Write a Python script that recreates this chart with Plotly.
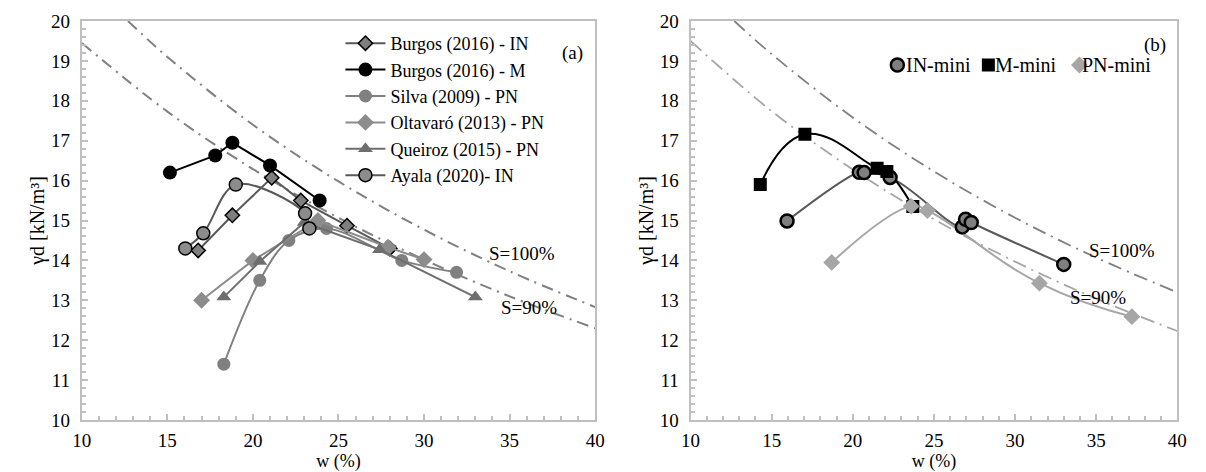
import plotly.graph_objects as go

# ---------------- Panel (a) data ----------------
burgos_in_w = [16.8, 18.8, 21.1, 22.8, 25.5, 28.0]
burgos_in_g = [14.25, 15.13, 16.07, 15.5, 14.87, 14.3]

burgos_m_w = [15.15, 17.8, 18.8, 21.0, 23.9]
burgos_m_g = [16.2, 16.63, 16.95, 16.38, 15.5]

silva_w = [18.3, 20.4, 22.1, 24.3, 28.7, 31.9]
silva_g = [11.4, 13.5, 14.5, 14.8, 14.0, 13.7]

oltavaro_w = [17.0, 20.0, 23.8, 27.9, 30.0]
oltavaro_g = [13.0, 14.0, 15.0, 14.33, 14.02]

queiroz_w = [18.3, 20.4, 23.0, 27.4, 33.0]
queiroz_g = [13.08, 13.97, 14.95, 14.27, 13.08]

ayala_w = [16.05, 17.1, 19.0, 23.05, 23.3]
ayala_g = [14.3, 14.68, 15.9, 15.18, 14.8]

# saturation curves
sat100a_w = [12.7, 15, 20, 25, 30, 35, 40]
sat100a_g = [20.0, 19.1, 17.4, 15.98, 14.77, 13.73, 12.83]
sat90a_w = [10, 15, 20, 25, 30, 35, 40]
sat90a_g = [19.45, 17.73, 16.29, 15.07, 14.02, 13.1, 12.3]

# ---------------- Panel (b) data ----------------
in_mini_w = [15.95, 20.4, 20.7, 22.3, 26.75, 26.95, 27.3, 33.0]
in_mini_g = [14.99, 16.21, 16.2, 16.08, 14.84, 15.03, 14.95, 13.9]

m_mini_w = [14.3, 17.05, 21.5, 22.1, 23.7]
m_mini_g = [15.9, 17.16, 16.31, 16.23, 15.35]

pn_mini_w = [18.7, 23.6, 24.6, 31.5, 37.2]
pn_mini_g = [13.95, 15.36, 15.25, 13.43, 12.59]

sat100b_w = [12.7, 15, 20, 25, 30, 35, 40]
sat100b_g = [20.0, 19.17, 17.58, 16.23, 15.07, 14.07, 13.2]
sat90b_w = [10, 15, 20, 25, 30, 35, 40]
sat90b_g = [19.5, 17.74, 16.28, 15.03, 13.97, 13.04, 12.23]

legend_b_labels = ["IN-mini", "M-mini", "PN-mini"]

FONT = "Liberation Serif, Times New Roman, serif"
FS = 19

fig = go.Figure()

# saturation lines (a)
fig.add_trace(go.Scatter(x=sat100a_w, y=sat100a_g, mode="lines", line=dict(shape="spline", color="#808080", width=2, dash="12px,6px,2px,6px"),
                         showlegend=False, xaxis="x", yaxis="y", hoverinfo="skip"))
fig.add_trace(go.Scatter(x=sat90a_w, y=sat90a_g, mode="lines", line=dict(shape="spline", color="#808080", width=2, dash="12px,6px,2px,6px"),
                         showlegend=False, xaxis="x", yaxis="y", hoverinfo="skip"))

# panel (a) series
fig.add_trace(go.Scatter(x=burgos_in_w, y=burgos_in_g, mode="lines+markers", name="Burgos (2016) - IN",
                         line=dict(color="#595959", width=2),
                         marker=dict(symbol="diamond", size=11, color="#7f7f7f", line=dict(color="black", width=1.5)),
                         legend="legend", xaxis="x", yaxis="y"))
fig.add_trace(go.Scatter(x=burgos_m_w, y=burgos_m_g, mode="lines+markers", name="Burgos (2016) - M",
                         line=dict(color="black", width=2),
                         marker=dict(symbol="circle", size=14, color="black"),
                         legend="legend", xaxis="x", yaxis="y"))
fig.add_trace(go.Scatter(x=silva_w, y=silva_g, mode="lines+markers", name="Silva (2009) - PN",
                         line=dict(color="#808080", width=2, shape="spline"),
                         marker=dict(symbol="circle", size=13, color="#808080"),
                         legend="legend", xaxis="x", yaxis="y"))
fig.add_trace(go.Scatter(x=oltavaro_w, y=oltavaro_g, mode="lines+markers", name="Oltavaró (2013) - PN",
                         line=dict(color="#8c8c8c", width=2),
                         marker=dict(symbol="diamond", size=13, color="#8c8c8c"),
                         legend="legend", xaxis="x", yaxis="y"))
fig.add_trace(go.Scatter(x=queiroz_w, y=queiroz_g, mode="lines+markers", name="Queiroz (2015) - PN",
                         line=dict(color="#6e6e6e", width=2),
                         marker=dict(symbol="triangle-up", size=13, color="#6e6e6e"),
                         legend="legend", xaxis="x", yaxis="y"))
fig.add_trace(go.Scatter(x=ayala_w, y=ayala_g, mode="lines+markers", name="Ayala (2020)- IN",
                         line=dict(color="#595959", width=2, shape="spline"),
                         marker=dict(symbol="circle", size=13, color="#8c8c8c", line=dict(color="black", width=1.5)),
                         legend="legend", xaxis="x", yaxis="y"))

# saturation lines (b)
fig.add_trace(go.Scatter(x=sat100b_w, y=sat100b_g, mode="lines", line=dict(shape="spline", color="#808080", width=1.8, dash="14px,6px,2px,6px"),
                         showlegend=False, xaxis="x2", yaxis="y2", hoverinfo="skip"))
fig.add_trace(go.Scatter(x=sat90b_w, y=sat90b_g, mode="lines", line=dict(shape="spline", color="#a6a6a6", width=1.8, dash="14px,6px,2px,6px"),
                         showlegend=False, xaxis="x2", yaxis="y2", hoverinfo="skip"))

# panel (b) lines
fig.add_trace(go.Scatter(x=in_mini_w, y=in_mini_g, mode="lines", line=dict(color="#595959", width=2, shape="spline", smoothing=1.3),
                         showlegend=False, xaxis="x2", yaxis="y2"))
fig.add_trace(go.Scatter(x=m_mini_w, y=m_mini_g, mode="lines", line=dict(color="black", width=2, shape="spline", smoothing=1.3),
                         showlegend=False, xaxis="x2", yaxis="y2"))
fig.add_trace(go.Scatter(x=pn_mini_w, y=pn_mini_g, mode="lines", line=dict(color="#a6a6a6", width=2, shape="spline", smoothing=1.3),
                         showlegend=False, xaxis="x2", yaxis="y2"))
# panel (b) markers (legend symbols only; labels placed as text next to them)
fig.add_trace(go.Scatter(x=in_mini_w, y=in_mini_g, mode="markers", name=" ",
                         marker=dict(symbol="circle", size=13, color="#7f7f7f", line=dict(color="black", width=2.5)),
                         legend="legend2", xaxis="x2", yaxis="y2", hovertemplate="IN-mini<br>%{x}, %{y}<extra></extra>"))
fig.add_trace(go.Scatter(x=m_mini_w, y=m_mini_g, mode="markers", name=" ",
                         marker=dict(symbol="square", size=13, color="black"),
                         legend="legend2", xaxis="x2", yaxis="y2", hovertemplate="M-mini<br>%{x}, %{y}<extra></extra>"))
fig.add_trace(go.Scatter(x=pn_mini_w, y=pn_mini_g, mode="markers", name=" ",
                         marker=dict(symbol="diamond", size=13, color="#a6a6a6"),
                         legend="legend2", xaxis="x2", yaxis="y2", hovertemplate="PN-mini<br>%{x}, %{y}<extra></extra>"))

axis_common = dict(
    showgrid=False, zeroline=False, showline=True, linecolor="#bfbfbf", linewidth=2, mirror=True,
    ticks="inside", ticklen=6, tickcolor="#bfbfbf", tickwidth=1.5,
    tickfont=dict(family=FONT, size=FS, color="black"),
)

xaxis_common = dict(axis_common, range=[10, 40], dtick=5, tick0=10, ticklabelstandoff=2,
                    minor=dict(dtick=1, ticks="inside", ticklen=4, tickcolor="#bfbfbf"),
                    title=dict(text="w (%)", font=dict(family=FONT, size=18, color="black"), standoff=5))
yaxis_common = dict(axis_common, range=[10, 20], dtick=1, tick0=10, ticklabelstandoff=6,
                    minor=dict(dtick=0.2, ticks="inside", ticklen=4, tickcolor="#bfbfbf"),
                    title=dict(text="γd [kN/m³]", font=dict(family=FONT, size=20, color="black"), standoff=1))

W, H = 1206, 472
leg_y = (420 - 65) / 399
legend_b_x = [909, 1000, 1088]
annotations = [
    dict(text="(a)", x=38.7, y=19.2, xref="x", yref="y", showarrow=False, font=dict(family=FONT, size=FS)),
    dict(text="(b)", x=38.6, y=19.41, xref="x2", yref="y2", showarrow=False, font=dict(family=FONT, size=FS)),
    dict(text="S=100%", x=35.7, y=14.18, xref="x", yref="y", showarrow=False, font=dict(family=FONT, size=FS)),
    dict(text="S=90%", x=36.15, y=12.83, xref="x", yref="y", showarrow=False, font=dict(family=FONT, size=FS)),
    dict(text="S=100%", x=36.6, y=14.26, xref="x2", yref="y2", showarrow=False, font=dict(family=FONT, size=FS)),
    dict(text="S=90%", x=35.1, y=13.08, xref="x2", yref="y2", showarrow=False, font=dict(family=FONT, size=FS)),
]
for lbl, px in zip(legend_b_labels, legend_b_x):
    annotations.append(dict(text=lbl, x=px / W, y=leg_y, xref="paper", yref="paper", xanchor="left", yanchor="middle",
                            showarrow=False, font=dict(family=FONT, size=20, color="black")))

fig.update_layout(
    width=W, height=H,
    margin=dict(l=0, r=0, t=21, b=52),
    plot_bgcolor="white", paper_bgcolor="white",
    font=dict(family=FONT, size=FS, color="black"),
    xaxis=dict(xaxis_common, domain=[73 / W, 595 / W], anchor="y"),
    yaxis=dict(yaxis_common, domain=[0, 1], anchor="x"),
    xaxis2=dict(xaxis_common, domain=[692 / W, 1187 / W], anchor="y2"),
    yaxis2=dict(yaxis_common, domain=[0, 1], anchor="x2"),
    legend=dict(x=336 / W, y=0.99, xanchor="left", yanchor="top",
                font=dict(family=FONT, size=18, color="black"), bgcolor="rgba(0,0,0,0)",
                tracegroupgap=0, itemwidth=40),
    legend2=dict(x=882 / W, y=leg_y, xanchor="left", yanchor="middle", orientation="h",
                 font=dict(family=FONT, size=20, color="black"), bgcolor="rgba(0,0,0,0)",
                 itemwidth=30, entrywidth=46, entrywidthmode="pixels"),
    annotations=annotations,
)

fig.write_html("out.html")
